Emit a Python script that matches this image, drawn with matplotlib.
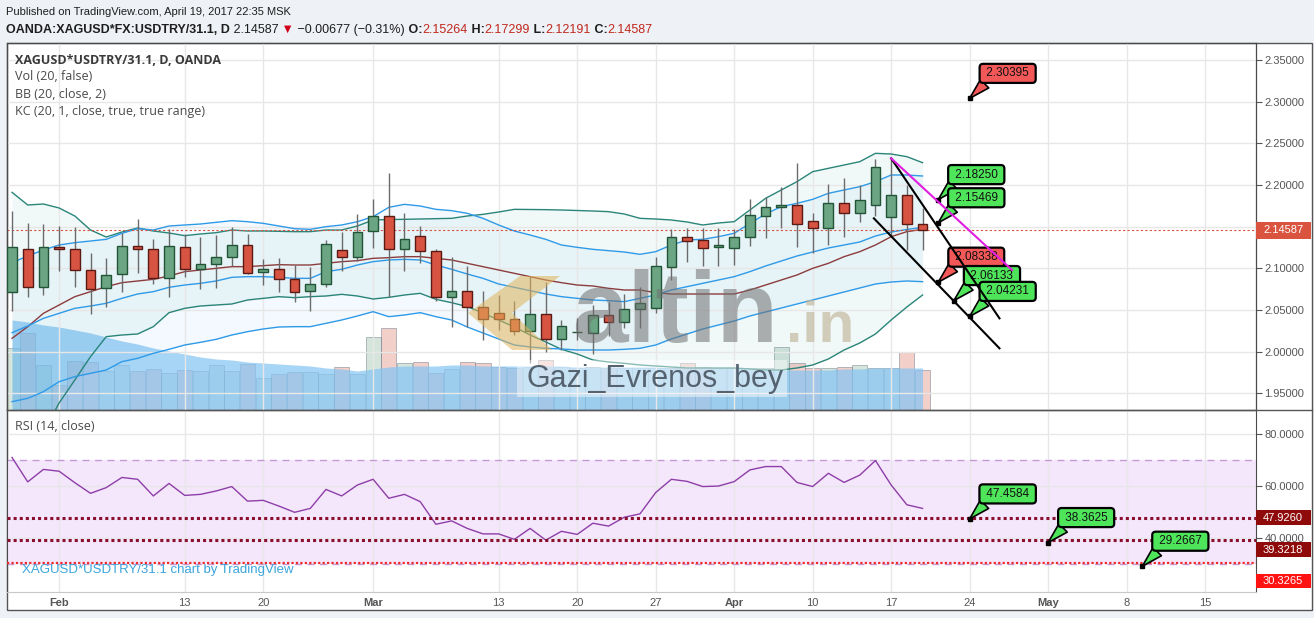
import matplotlib
matplotlib.use("Agg")
import matplotlib.pyplot as plt
from matplotlib import font_manager
from matplotlib.colors import to_rgba
from matplotlib.patches import Rectangle, Polygon
from matplotlib.transforms import blended_transform_factory
import numpy as np
import pandas as pd

# daily bars, weekdays only (Jan 27 .. Apr 19 drawn, the rest is empty space)
days = pd.bdate_range("2017-01-27", "2017-05-22")

opens = [2.0712, 2.1228, 2.0772, 2.1260, 2.1228, 2.0976, 2.0760, 2.0928, 2.1272, 2.1228,
         2.0880, 2.1252, 2.0988, 2.1048, 2.1132, 2.1276, 2.0952, 2.0988, 2.0868, 2.0724,
         2.0808, 2.1220, 2.1140, 2.1448, 2.1628, 2.1236, 2.1384, 2.1204, 2.0660, 2.0724,
         2.0540, 2.0460, 2.0388, 2.0252, 2.0448, 2.0148, 2.0232, 2.0228, 2.0436, 2.0360,
         2.0508, 2.0520, 2.1020, 2.1372, 2.1340, 2.1252, 2.1248, 2.1380, 2.1632, 2.1740,
         2.1756, 2.1564, 2.1488, 2.1780, 2.1660, 2.1756, 2.1616, 2.1876, 2.15264]
highs = [2.1692, 2.1548, 2.1532, 2.1508, 2.1492, 2.1180, 2.1128, 2.1420, 2.1592, 2.1348,
         2.1468, 2.1412, 2.1372, 2.1400, 2.1492, 2.1412, 2.1116, 2.1124, 2.1040, 2.1020,
         2.1340, 2.1440, 2.1652, 2.1832, 2.2148, 2.1668, 2.1508, 2.1236, 2.1132, 2.1028,
         2.0728, 2.0680, 2.0608, 2.0892, 2.0832, 2.0380, 2.0400, 2.0560, 2.0600, 2.0692,
         2.0780, 2.1132, 2.1468, 2.1480, 2.1480, 2.1480, 2.1468, 2.1828, 2.1860, 2.1980,
         2.2268, 2.1668, 2.2008, 2.2080, 2.2000, 2.2308, 2.2320, 2.2000, 2.17299]
lows = [2.0488, 2.0660, 2.0680, 2.0972, 2.0780, 2.0448, 2.0540, 2.0720, 2.0940, 2.0808,
        2.0660, 2.0900, 2.0748, 2.0760, 2.1028, 2.0932, 2.0804, 2.0720, 2.0600, 2.0488,
        2.0780, 2.0972, 2.1088, 2.1248, 2.0660, 2.0972, 2.1068, 2.0608, 2.0300, 2.0300,
        2.0140, 2.0260, 2.0200, 1.9860, 2.0000, 2.0020, 2.0140, 1.9972, 2.0188, 2.0280,
        2.0280, 2.0460, 2.0860, 2.1080, 2.1028, 2.1028, 2.1040, 2.1268, 2.1364, 2.1480,
        2.1252, 2.1180, 2.1280, 2.1380, 2.1560, 2.1628, 2.1380, 2.1220, 2.12191]
closes = [2.1260, 2.0772, 2.1260, 2.1228, 2.0976, 2.0748, 2.0924, 2.1272, 2.1228, 2.0880,
          2.1272, 2.0988, 2.1048, 2.1132, 2.1276, 2.0948, 2.0988, 2.0868, 2.0720, 2.0808,
          2.1288, 2.1140, 2.1440, 2.1628, 2.1236, 2.1348, 2.1204, 2.0660, 2.0724, 2.0540,
          2.0388, 2.0388, 2.0252, 2.0448, 2.0148, 2.0304, 2.0232, 2.0436, 2.0360, 2.0508,
          2.0580, 2.1028, 2.1372, 2.1332, 2.1248, 2.1276, 2.1380, 2.1636, 2.1740, 2.1756,
          2.1532, 2.1488, 2.1780, 2.1660, 2.1816, 2.2212, 2.1876, 2.15264, 2.14587]

volume = [62, 77, 45, 25, 49, 48, 39, 45, 39, 41, 37, 40, 39, 45, 39, 46, 32, 36, 38, 38,
          36, 43, 36, 73, 82, 47, 48, 37, 41, 48, 47, 43, 42, 43, 50, 43, 42, 43, 42, 42,
          42, 42, 42, 47, 43, 42, 42, 42, 42, 63, 47, 42, 42, 43, 45, 42, 42, 58, 40]
vol_ma = [90, 88, 85, 83, 80, 77, 73, 69, 66, 62, 59, 56, 53, 51, 50, 48, 47, 46, 45, 44,
          42, 41, 39, 41, 43, 44, 44, 44, 45, 45, 44, 44, 44, 44, 44, 44, 43, 43, 43, 43,
          43, 43, 42, 42, 42, 42, 42, 41, 41, 40, 40, 40, 40, 41, 41, 42, 42, 42, 42]

bb_upper = [2.1912, 2.1760, 2.1772, 2.1724, 2.1628, 2.1460, 2.1376, 2.1436, 2.1484, 2.1448,
            2.1424, 2.1392, 2.1412, 2.1428, 2.1460, 2.1448, 2.1448, 2.1444, 2.1440, 2.1440,
            2.1460, 2.1460, 2.1508, 2.1580, 2.1586, 2.1588, 2.1592, 2.1596, 2.1600, 2.1628,
            2.1648, 2.1676, 2.1708, 2.1706, 2.1704, 2.1700, 2.1694, 2.1688, 2.1680, 2.1652,
            2.1600, 2.1592, 2.1580, 2.1556, 2.1520, 2.1544, 2.1560, 2.1700, 2.1840, 2.1940,
            2.2040, 2.2160, 2.2200, 2.2240, 2.2280, 2.2380, 2.2372, 2.2340, 2.2268]
bb_basis = [2.0160, 2.0300, 2.0460, 2.0560, 2.0660, 2.0720, 2.0780, 2.0828, 2.0848, 2.0868,
            2.0908, 2.0960, 2.0980, 2.1000, 2.1020, 2.1020, 2.1032, 2.1044, 2.1040, 2.1040,
            2.1060, 2.1080, 2.1092, 2.1120, 2.1128, 2.1140, 2.1140, 2.1120, 2.1100, 2.1060,
            2.1020, 2.0980, 2.0940, 2.0900, 2.0860, 2.0828, 2.0800, 2.0788, 2.0760, 2.0740,
            2.0740, 2.0708, 2.0692, 2.0692, 2.0692, 2.0692, 2.0692, 2.0740, 2.0800, 2.0860,
            2.0920, 2.1000, 2.1060, 2.1140, 2.1200, 2.1280, 2.1380, 2.1440, 2.1468]
bb_lower = [1.8412, 1.8700, 1.9036, 1.9384, 1.9660, 1.9940, 2.0180, 2.0200, 2.0212, 2.0300,
            2.0468, 2.0520, 2.0548, 2.0560, 2.0572, 2.0620, 2.0640, 2.0660, 2.0648, 2.0660,
            2.0668, 2.0688, 2.0668, 2.0632, 2.0652, 2.0680, 2.0700, 2.0628, 2.0588, 2.0540,
            2.0464, 2.0380, 2.0296, 2.0200, 2.0116, 2.0028, 1.9972, 1.9900, 1.9876, 1.9860,
            1.9840, 1.9828, 1.9816, 1.9804, 1.9804, 1.9804, 1.9804, 1.9792, 1.9780, 1.9780,
            1.9804, 1.9840, 1.9912, 2.0020, 2.0104, 2.0212, 2.0380, 2.0536, 2.0680]
kc_upper = [2.1068, 2.1148, 2.1220, 2.1280, 2.1308, 2.1328, 2.1348, 2.1420, 2.1476, 2.1460,
            2.1508, 2.1520, 2.1532, 2.1552, 2.1572, 2.1560, 2.1540, 2.1508, 2.1476, 2.1468,
            2.1500, 2.1520, 2.1560, 2.1620, 2.1732, 2.1768, 2.1748, 2.1708, 2.1692, 2.1660,
            2.1600, 2.1520, 2.1448, 2.1400, 2.1348, 2.1280, 2.1252, 2.1228, 2.1212, 2.1196,
            2.1168, 2.1200, 2.1280, 2.1340, 2.1348, 2.1380, 2.1420, 2.1540, 2.1652, 2.1740,
            2.1780, 2.1828, 2.1900, 2.1940, 2.1980, 2.2040, 2.2120, 2.2120, 2.2108]
kc_mid = [2.0228, 2.0308, 2.0400, 2.0460, 2.0520, 2.0548, 2.0580, 2.0640, 2.0692, 2.0720,
          2.0772, 2.0800, 2.0820, 2.0848, 2.0892, 2.0900, 2.0900, 2.0892, 2.0880, 2.0880,
          2.0960, 2.0988, 2.1040, 2.1080, 2.1100, 2.1108, 2.1100, 2.1040, 2.0988, 2.0932,
          2.0880, 2.0812, 2.0772, 2.0732, 2.0692, 2.0660, 2.0640, 2.0620, 2.0612, 2.0600,
          2.0640, 2.0680, 2.0740, 2.0780, 2.0820, 2.0860, 2.0900, 2.0960, 2.1028, 2.1088,
          2.1148, 2.1196, 2.1244, 2.1280, 2.1316, 2.1388, 2.1436, 2.1466, 2.1492]
kc_lower = [1.9400, 1.9440, 1.9520, 1.9640, 1.9700, 1.9740, 1.9780, 1.9880, 1.9920, 1.9980,
            2.0028, 2.0080, 2.0112, 2.0148, 2.0200, 2.0240, 2.0272, 2.0296, 2.0300, 2.0300,
            2.0340, 2.0380, 2.0428, 2.0480, 2.0420, 2.0440, 2.0468, 2.0420, 2.0380, 2.0296,
            2.0224, 2.0152, 2.0080, 2.0056, 2.0040, 2.0032, 2.0020, 2.0020, 2.0020, 2.0028,
            2.0040, 2.0080, 2.0152, 2.0212, 2.0272, 2.0320, 2.0368, 2.0428, 2.0476, 2.0524,
            2.0572, 2.0620, 2.0668, 2.0716, 2.0764, 2.0812, 2.0836, 2.0848, 2.0840]

rsi = [71.1, 61.7, 66.5, 65.8, 61.4, 57.3, 59.5, 63.4, 62.7, 56.3,
       61.1, 56.5, 56.9, 58.2, 59.9, 54.3, 54.6, 52.4, 50.0, 51.5,
       58.8, 56.3, 60.5, 62.7, 55.4, 56.9, 54.1, 45.4, 46.7, 43.8,
       41.7, 41.7, 39.6, 43.8, 39.3, 42.7, 41.5, 45.8, 44.7, 48.1,
       49.4, 57.6, 62.7, 61.9, 59.9, 60.1, 61.8, 66.3, 67.6, 67.6,
       61.5, 59.9, 65.0, 61.5, 64.3, 69.9, 60.5, 52.9, 51.5]
rsi_levels = [47.9260, 39.3218, 30.3265]

price_ticks = [1.95, 2.00, 2.05, 2.10, 2.15, 2.20, 2.25, 2.30, 2.35]
rsi_ticks = [40, 60, 80]
tick_days = ["2017-02-01", "2017-02-13", "2017-02-20", "2017-03-01", "2017-03-13", "2017-03-20",
             "2017-03-27", "2017-04-03", "2017-04-10", "2017-04-17", "2017-04-24", "2017-05-01",
             "2017-05-08", "2017-05-15"]
tick_text = ["Feb", "13", "20", "Mar", "13", "20", "27", "Apr", "10", "17", "24", "May", "8", "15"]

# drawn notes: (day, value, kind)
price_notes = [("2017-04-24", 2.30395, "down"), ("2017-04-20", 2.18250, "up"),
               ("2017-04-20", 2.15469, "up"), ("2017-04-20", 2.08338, "down"),
               ("2017-04-21", 2.06133, "up"), ("2017-04-24", 2.04231, "up")]
rsi_notes = [("2017-04-24", 47.4584), ("2017-05-01", 38.3625), ("2017-05-09", 29.2667)]
# trend lines as (bar index, price) end points
magenta_x, magenta_y = [56.0, 63.7], [2.232, 2.098]
black1_x, black1_y = [56.0, 62.9], [2.232, 2.040]
black2_x, black2_y = [54.9, 62.9], [2.160, 2.004]

W, H = 1314, 618
have = {f.name for f in font_manager.fontManager.ttflist}
NARROW = ["Liberation Sans Narrow" if "Liberation Sans Narrow" in have else "Liberation Sans", "DejaVu Sans"]
UI = ["Open Sans", "DejaVu Sans"]
plt.rcParams["font.family"] = ["Liberation Sans", "DejaVu Sans"]

UP, UP_EDGE, DN, DN_EDGE = "#6ba583", "#225437", "#d75442", "#5b1a13"
NOTE_GREEN, NOTE_RED = "#4fe55b", "#f25858"


def rect(x0, y0, x1, y1):
    # pixel box (top-left origin) -> figure fraction
    return [x0 / W, 1 - y1 / H, (x1 - x0) / W, (y1 - y0) / H]


def day(d):
    return days.get_loc(pd.Timestamp(d))


fig = plt.figure(figsize=(W / 100, H / 100), dpi=100)
fig.patch.set_facecolor("#eef1f6")
fig.patches.append(Rectangle((7 / W, 1 - 610 / H), 1305 / W, 567 / H, transform=fig.transFigure,
                             facecolor="white", edgecolor="#555555", lw=1, zorder=-10))

ax = fig.add_axes(rect(7, 43, 1256, 410))
axv = ax.twinx()
rax = fig.add_axes(rect(7, 410, 1256, 592), sharex=ax)
ax.set_zorder(axv.get_zorder() + 1)
ax.patch.set_visible(False)
axv.patch.set_visible(False)
rax.patch.set_visible(False)

x = np.arange(len(closes))
o, h, l, c = map(np.array, (opens, highs, lows, closes))
up = c >= o

# volume + its average
axv.bar(x, volume, width=0.96, color=[to_rgba(UP if u else DN, 0.28) for u in up],
        edgecolor=to_rgba("#7b8794", 0.55), linewidth=0.7)
axv.fill_between(x, 0, vol_ma, color="#86c5f3", alpha=0.72, lw=0)
axv.set_ylim(0, 367)
axv.yaxis.set_visible(False)

# bands
ax.fill_between(x, bb_lower, bb_upper, color="#1f8a8a", alpha=0.06, lw=0)
ax.fill_between(x, kc_lower, kc_upper, color="#2196f3", alpha=0.05, lw=0)
ax.plot(x, bb_upper, color="#2a8579", lw=1)
ax.plot(x, bb_lower, color="#2a8579", lw=1)
ax.plot(x, bb_basis, color="#8c3c3c", lw=1)
for s in (kc_upper, kc_mid, kc_lower):
    ax.plot(x, s, color="#2f9ae8", lw=1)

# candles
ax.vlines(x, l, h, color="#6b6b6d", lw=1, zorder=3)
ax.bar(x, c - o, bottom=o, width=0.62, color=[UP if u else DN for u in up],
       edgecolor=[UP_EDGE if u else DN_EDGE for u in up], linewidth=1, zorder=4)

last = closes[-1]
ax.axhline(last, color=DN, lw=0.8, ls=(0, (2, 2)), zorder=2)

ax.set_xlim(-0.32, 79.24)
ax.set_ylim(1.93, 2.3704)
ax.yaxis.tick_right()
ax.set_yticks(price_ticks)
ax.set_yticklabels(["" if t == 2.15 else f"{t:.5f}" for t in price_ticks])
ax.tick_params(axis="y", length=4, color="#555555", labelsize=8, labelcolor="#555555", pad=2)
ax.tick_params(axis="x", length=0, labelbottom=False)
ax.grid(True, color="#e7e7e7", lw=1)
for sp in ax.spines.values():
    sp.set_color("#4a4a4a")

tr = blended_transform_factory(ax.transAxes, ax.transData)
ax.add_patch(Rectangle((1.0, last - 0.0102), 55 / 1249, 0.0204, transform=tr, facecolor="#d9533f",
                       edgecolor="none", clip_on=False, zorder=6))
ax.text(1.0 + 7 / 1249, last, f"{last:.5f}", transform=tr, color="white", fontsize=8,
        va="center", ha="left", clip_on=False, zorder=7)


def callout(axis, xi, val, text, color):
    axis.annotate(f" {text} ", xy=(xi, val), xytext=(38, 25), textcoords="offset pixels",
                  ha="center", va="center", fontsize=8.5, color="#111111",
                  bbox=dict(boxstyle="round,pad=0.3,rounding_size=0.3", fc=color, ec="black", lw=1.6),
                  arrowprops=dict(arrowstyle="wedge,tail_width=1.0,shrink_factor=0.5", fc=color,
                                  ec="black", lw=1.2, relpos=(0.12, 0.0), shrinkA=0, shrinkB=0),
                  zorder=8, annotation_clip=False)
    axis.plot([xi], [val], marker="s", ms=3, color="black", zorder=9, clip_on=False)


for d, v, kind in price_notes:
    callout(ax, day(d), v, f"{v:.5f}", NOTE_GREEN if kind == "up" else NOTE_RED)

ax.plot(black1_x, black1_y, color="black", lw=1.5, zorder=10)
ax.plot(black2_x, black2_y, color="black", lw=1.5, zorder=10)
ax.plot(magenta_x, magenta_y, color="#e01ee0", lw=1.5, zorder=10)

# RSI pane
rax.axhspan(30, 70, color="#f4e6fb", lw=0, zorder=0)
rax.axhline(70, color="#c49ad6", lw=1, ls=(0, (5, 4)))
rax.axhline(30, color="#c49ad6", lw=1, ls=(0, (5, 4)))
rax.plot(x, rsi, color="#8e3ea8", lw=1, zorder=3)
for lvl, col, lw in zip(rsi_levels, ["#8b1030", "#8b1030", "#ee2a2a"], [2.2, 2.2, 1.6]):
    rax.axhline(lvl, color=col, lw=lw, ls=(0, (1, 1)), zorder=4)
for d, v in rsi_notes:
    callout(rax, day(d), v, f"{v:.4f}", NOTE_GREEN)

rax.set_ylim(19.35, 89.35)
rax.yaxis.tick_right()
rax.set_yticks(rsi_ticks)
rax.set_yticklabels([f"{t:.4f}" for t in rsi_ticks])
rax.tick_params(axis="y", length=4, color="#555555", labelsize=8, labelcolor="#555555", pad=2)
rax.set_xticks([day(d) for d in tick_days])
rax.set_xticklabels(tick_text)
rax.tick_params(axis="x", length=0, labelsize=8, labelcolor="#555555", pad=4)
for lab in rax.get_xticklabels():
    if lab.get_text() in ("Feb", "Mar", "Apr", "May"):
        lab.set_fontweight("bold")
rax.grid(True, color="#e7e7e7", lw=1)
for sp in rax.spines.values():
    sp.set_color("#4a4a4a")
rax.spines["bottom"].set_color("#c8c8c8")

trr = blended_transform_factory(rax.transAxes, rax.transData)
for lvl, pos, col in zip(rsi_levels, [47.926, 35.6, 23.6], ["#8f0b0b", "#8f0b0b", "#ff1212"]):
    rax.add_patch(Rectangle((1.0, pos - 2.8), 55 / 1249, 5.6, transform=trr, facecolor=col,
                            edgecolor="none", clip_on=False, zorder=6))
    rax.text(1.0 + 7 / 1249, pos, f"{lvl:.4f}", transform=trr, color="white", fontsize=8,
             va="center", ha="left", clip_on=False, zorder=7)

# overlay in pixel coordinates for texts and watermarks
ov = fig.add_axes([0, 0, 1, 1], zorder=20)
ov.set_xlim(0, W)
ov.set_ylim(H, 0)
ov.axis("off")
ov.plot([7, 1312], [410, 410], color="#555555", lw=1)

ov.text(6, 12, "Published on TradingView.com, April 19, 2017 22:35 MSK", family=NARROW,
        fontsize=8, color="#1e1e1e", va="center", ha="left")
chg = closes[-1] - closes[-2]
pct = chg / closes[-2] * 100
dark, red = "#1e1e1e", "#c0271c"
pieces = [("OANDA:XAGUSD*FX:USDTRY/31.1, D", dark, "bold"),
          (f" {last:.5f}", dark, "normal"),
          (" \u25bc", "#d0021b", "normal"),
          (f" {chg:.5f} ({pct:.2f}%)".replace("-", "\u2212"), dark, "normal"),
          (" O:", dark, "bold"), (f"{opens[-1]:.5f}", red, "normal"),
          (" H:", dark, "bold"), (f"{highs[-1]:.5f}", red, "normal"),
          (" L:", dark, "bold"), (f"{lows[-1]:.5f}", red, "normal"),
          (" C:", dark, "bold"), (f"{closes[-1]:.5f}", red, "normal")]
prev = ov.text(6, 30, pieces[0][0], family=NARROW, fontsize=9, color=pieces[0][1],
               fontweight=pieces[0][2], va="center", ha="left")
for s, col, w in pieces[1:]:
    prev = ov.annotate(s, xy=(1, 0), xycoords=prev, va="bottom", ha="left", family=NARROW,
                       fontsize=9, color=col, fontweight=w)

ov.text(15, 60, "XAGUSD*USDTRY/31.1, D, OANDA", family=UI, fontsize=9, fontweight="bold",
        color="#3a3a3a", va="center")
for i, s in enumerate(["Vol (20, false)", "BB (20, close, 2)", "KC (20, 1, close, true, true range)"]):
    ov.text(15, 77 + 17 * i, s, family=UI, fontsize=9, color="#4a4a4a", va="center")
ov.text(15, 427, "RSI (14, close)", family=UI, fontsize=9, color="#4a4a4a", va="center")
ov.text(22, 570, "XAGUSD*USDTRY/31.1 chart by TradingView", family=NARROW, fontsize=9.5,
        color="#3aa5dc", va="center")

# watermarks
ov.add_patch(Polygon([(520, 276), (560, 276), (512, 313), (552, 350), (512, 350), (468, 313)],
                     closed=True, facecolor="#e2b45a", alpha=0.55, edgecolor="none"))
ov.text(572, 342, "altin", family="Liberation Sans", fontsize=72, fontweight="bold",
        color="#707070", alpha=0.55, va="baseline", ha="left")
ov.text(786, 342, ".in", family="Liberation Sans", fontsize=42, fontweight="bold",
        color="#c4b99f", alpha=0.7, va="baseline", ha="left")
ov.add_patch(Rectangle((517, 360), 270, 37, facecolor="white", alpha=0.45, edgecolor="none"))
ov.text(527, 379, "Gazi_Evrenos_bey", family="Liberation Sans", fontsize=22, color="#556270",
        va="center", ha="left")

fig.savefig("out.png", dpi=100, facecolor=fig.get_facecolor())
